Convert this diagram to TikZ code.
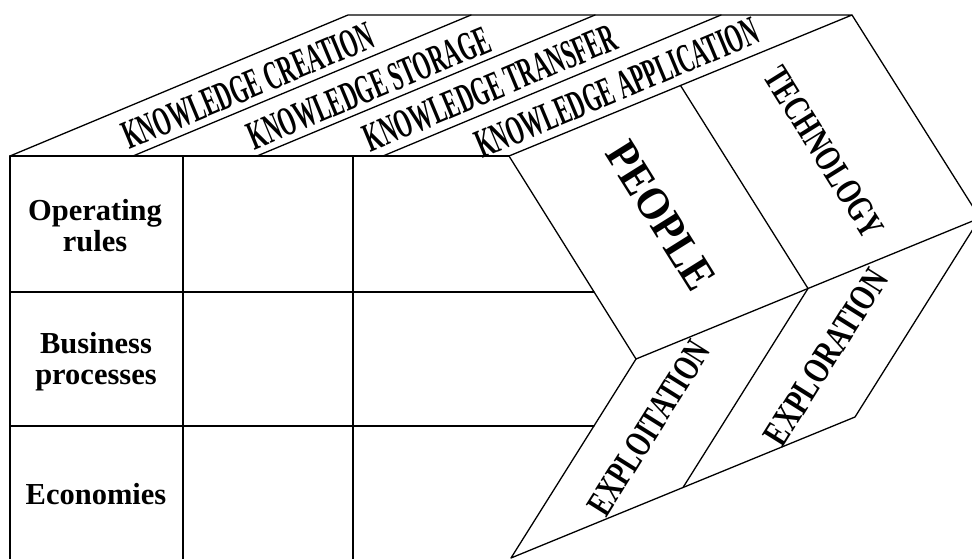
\documentclass[tikz,border=0pt]{standalone}
\usepackage{fontspec}
\setmainfont{Liberation Serif}
\usetikzlibrary{calc}

\begin{document}
\begin{tikzpicture}[
   x=1pt,
   y=-1pt,
   line cap=round,
   line join=round,
   every node/.style={font=\bfseries,inner sep=0pt},
   face/.style={draw=black,line width=1.3pt},
   toplabel/.style={font=\fontsize{41}{43}\selectfont\bfseries,rotate=22.65,xscale=0.53},
   sidelabel/.style={font=\fontsize{37}{40}\selectfont\bfseries,rotate=-57.97,xscale=0.72},
   lowlabel/.style={font=\fontsize{37}{40}\selectfont\bfseries,rotate=57.9,xscale=0.70},
   rowlabel/.style={font=\fontsize{30.5}{31}\selectfont\bfseries,align=center}
 ]
   \useasboundingbox (0,0) rectangle (972,559);
   \clip (0,0) rectangle (972,559);

   % Corners of the front grid and of the slanted faces.
   \coordinate (tl) at (10,156);
   \coordinate (fr) at (509,156);
   \coordinate (tt) at (348,15);
   \coordinate (tr) at (852,15);
   \coordinate (rr) at (980,218);
   \coordinate (rb) at (636,359);
   \coordinate (lb) at (511,558);
   \coordinate (lr) at (855,417);

   % Front grid, open at the bottom.
   \draw[face] (10,559) -- (tl) -- (fr);
   \draw[face] (183,156) -- (183,559);
   \draw[face] (353,156) -- (353,559);
   \draw[face] (10,292) -- (594,292);
   \draw[face] (10,426) -- (594,426);

   % Top face with its four stripes.
   \draw[face] (tl) -- (tt) -- (tr) -- (fr);
   \foreach \bx/\tx in {133/471,257/595,383/721}
     \draw[face] (\bx,156) -- (\tx,15);

   % Side face and the face below it, each split in two.
   \draw[face] (fr) -- (rb) -- (rr) -- (tr);
   \draw[face] ($(fr)!0.5!(tr)$) -- ($(rb)!0.5!(rr)$);
   \draw[face] (rb) -- (lb) -- (lr) -- (rr);
   \draw[face] ($(rb)!0.5!(rr)$) -- ($(lb)!0.5!(lr)$);

   % Labels.
   \node[toplabel] (kcreate) at (248,86) {KNOWLEDGE CREATION};
   \node[toplabel] (kstore) at (369,88) {KNOWLEDGE STORAGE};
   \node[toplabel] (ktrans) at (490,88) {KNOWLEDGE TRANSFER};
   \node[toplabel] (kapply) at (617,88) {KNOWLEDGE APPLICATION};
   \node[sidelabel,font=\fontsize{46}{48}\selectfont\bfseries,xscale=1.25] (people) at (661,216) {PEOPLE};
   \node[sidelabel] (tech) at (824,152) {TECHNOLOGY};
   \node[lowlabel] (exploit) at (649,428) {EXPLOITATION};
   \node[lowlabel,xscale=1.05] (explore) at (826,357) {EXPLORATION};
   \node[rowlabel] (oprules) at (95,226) {Operating\\rules};
   \node[rowlabel] (bproc) at (96,362) {Business\\processes};
   \node[rowlabel] (econ) at (96,494) {Economies};
 \end{tikzpicture}
\end{document}
